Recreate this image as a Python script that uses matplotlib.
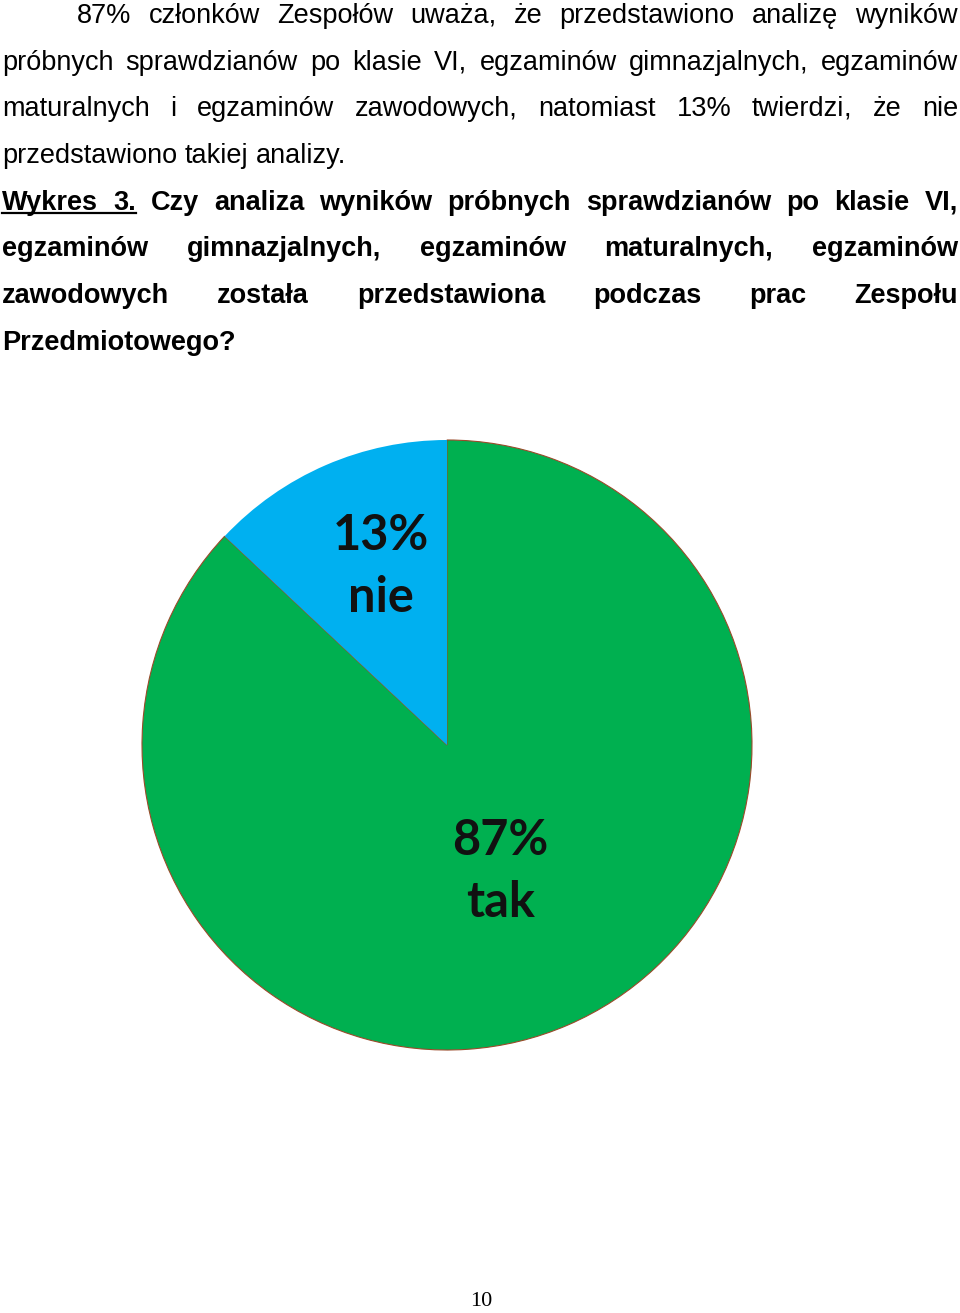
import numpy as np
import matplotlib
matplotlib.use("Agg")
import matplotlib.pyplot as plt

# --- data ---
answers = ["tak", "nie"]
shares = [87, 13]
colors = ["#00B050", "#00B0F0"]

para_lines = [
    "87% członków Zespołów uważa, że przedstawiono analizę wyników",
    "próbnych sprawdzianów po klasie VI, egzaminów gimnazjalnych, egzaminów",
    "maturalnych i egzaminów zawodowych, natomiast 13% twierdzi, że nie",
    "przedstawiono takiej analizy.",
]
caption_lines = [
    "Wykres 3. Czy analiza wyników próbnych sprawdzianów po klasie VI,",
    "egzaminów gimnazjalnych, egzaminów maturalnych, egzaminów",
    "zawodowych została przedstawiona podczas prac Zespołu",
    "Przedmiotowego?",
]
page_number = "10"

W, H = 960, 1313
fig = plt.figure(figsize=(W / 100, H / 100), dpi=100)
renderer = fig.canvas.get_renderer()

# this one word renders oddly as a whole, so its comma is drawn separately
split_words = {"twierdzi,"}


def text_width(s, kw):
    t = fig.text(0, 0, s, **kw)
    wd = t.get_window_extent(renderer).width
    t.remove()
    return wd


def put_line(text, baseline, x0, x1, justify, weight="normal", underline_words=0):
    words = text.split()
    kw = dict(fontsize=19.5, family="Liberation Sans", weight=weight, va="baseline", ha="left")
    pieces = [(w[:-1], ",") if w in split_words else (w, "") for w in words]
    widths = [text_width(w, kw) for w in words]
    if justify and len(words) > 1:
        gap = (x1 - x0 - sum(widths)) / (len(words) - 1)
    else:
        gap = text_width("a a", kw) - text_width("aa", kw)
    x = x0
    ypos = 1 - baseline / H
    ends = []
    for (a, b), wd in zip(pieces, widths):
        fig.text(x / W, ypos, a, **kw)
        if b:
            fig.text((x + text_width(a, kw) - 1) / W, ypos, b, **kw)
        ends.append((x, x + wd))
        x += wd + gap
    if underline_words:
        ux0, ux1 = ends[0][0], ends[underline_words - 1][1]
        uy = 1 - (baseline + 3) / H
        fig.add_artist(plt.Line2D([ux0 / W, ux1 / W], [uy, uy], transform=fig.transFigure,
                                  color="black", lw=1.6))


base0 = 23
step = 46.7
for i, line in enumerate(para_lines):
    x0 = 77 if i == 0 else 2
    put_line(line, base0 + i * step, x0, 958, justify=i < len(para_lines) - 1)
for j, line in enumerate(caption_lines):
    put_line(line, base0 + (j + 4) * step, 2, 958, justify=j < len(caption_lines) - 1,
             weight="bold", underline_words=2 if j == 0 else 0)

# --- pie ---
cx, cy, r = 447, 745, 305
ax = fig.add_axes([(cx - r) / W, (H - cy - r) / H, 2 * r / W, 2 * r / H])
wedges, _ = ax.pie(shares, colors=colors, startangle=90, counterclock=False,
                   wedgeprops=dict(linewidth=0))
wedges[0].set_edgecolor("#9a4a2a")
wedges[0].set_linewidth(0.8)
ax.set_xlim(-1, 1)
ax.set_ylim(-1, 1)
ax.set_aspect("equal")
ax.axis("off")

# label placement: (radius fraction, angle shift in degrees)
label_pos = [(0.45, -0.4), (0.625, -3.1)]
for wdg, name, val, (d, shift) in zip(wedges, answers, shares, label_pos):
    ang = np.deg2rad((wdg.theta1 + wdg.theta2) / 2 + shift)
    ax.text(d * np.cos(ang), d * np.sin(ang), f"{val}%\n{name}", ha="center", va="center",
            fontsize=35, family="Lato", weight="bold", linespacing=1.45, color="#111111")

fig.text(481 / W, 1 - 1306 / H, page_number, ha="center", va="baseline",
         fontsize=16, family="Liberation Serif")

fig.savefig("out.png", dpi=100)
